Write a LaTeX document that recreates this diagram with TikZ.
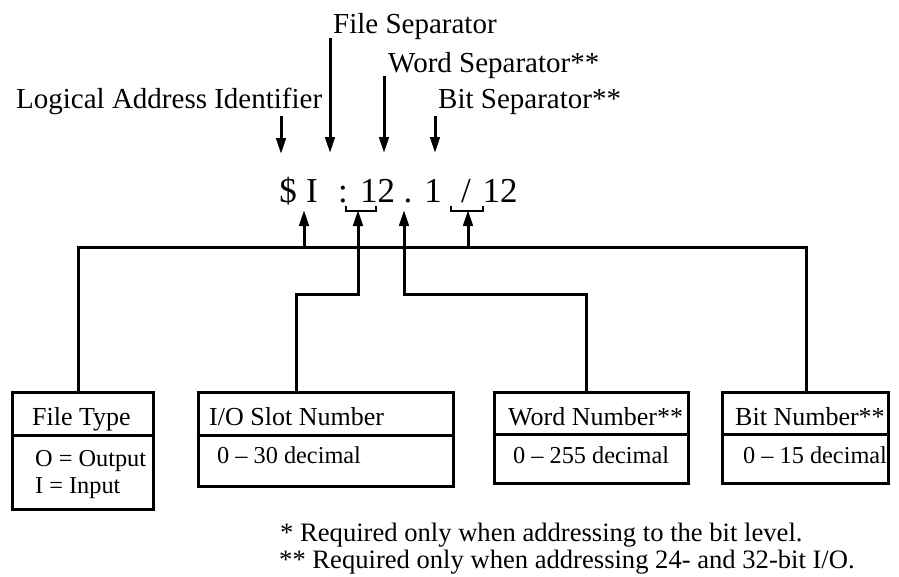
\documentclass[tikz,border=0pt]{standalone}
\usepackage{fontspec}
\setmainfont{Liberation Serif}
\usetikzlibrary{arrows.meta}

\tikzset{
  wire/.style={line width=3pt, line join=miter},
  pointer/.style={wire, -{Triangle[length=16pt,width=9.5pt]}},
  brace/.style={line width=1.7pt},
  boxframe/.style={draw, line width=3pt, inner sep=0pt},
  toplabel/.style={inner sep=0pt, anchor=base west, font=\fontsize{29}{34}\selectfont},
  addr/.style={inner sep=0pt, anchor=base, font=\fontsize{35}{40}\selectfont},
  boxtitle/.style={inner sep=0pt, anchor=base west, font=\fontsize{26}{30}\selectfont},
  boxtext/.style={inner sep=0pt, anchor=base west, font=\fontsize{24.3}{28}\selectfont},
  note/.style={inner sep=0pt, anchor=base west, font=\fontsize{26.6}{30}\selectfont},
}

\begin{document}
\begin{tikzpicture}[x=1pt, y=-1pt]
\useasboundingbox (0,0) rectangle (899,576);

% labels above the address
\node[toplabel] (lfile) at (333,33) {File Separator};
\node[toplabel] (lword) at (388,72) {Word Separator**};
\node[toplabel] (llog)  at (16,108) {Logical Address Identifier};
\node[toplabel] (lbit)  at (438,108) {Bit Separator**};

% the address itself
\node[addr] (adollar) at (288,202) {\$};
\node[addr] (atype)   at (312,202) {I};
\node[addr] (acolon)  at (343,202) {:};
\node[addr] (aslot)   at (377.5,202) {12};
\node[addr] (adot)    at (408,202) {.};
\node[addr] (aword)   at (433,202) {1};
\node[addr] (aslash)  at (466,202) {/};
\node[addr] (abit)    at (500,202) {12};

% arrows from the labels down to the address
\coordinate (llog-s)  at (281,116);  \coordinate (llog-t)  at (281,154);
\coordinate (lfile-s) at (330,38);   \coordinate (lfile-t) at (330,153);
\coordinate (lword-s) at (384,76);   \coordinate (lword-t) at (384,153);
\coordinate (lbit-s)  at (435,116);  \coordinate (lbit-t)  at (435,153);
\draw[pointer] (llog-s) -- (llog-t);
\draw[pointer] (lfile-s) -- (lfile-t);
\draw[pointer] (lword-s) -- (lword-t);
\draw[pointer] (lbit-s) -- (lbit-t);

% small brackets under the slot and bit fields
\draw[brace] (346,206) -- (346,211) -- (376,211) -- (376,206);
\draw[brace] (451,206) -- (451,211) -- (483,211) -- (483,206);

% field boxes
\node[boxframe, minimum width=141pt, minimum height=117pt] (bft)   at (82.5,450.5) {};
\node[boxframe, minimum width=255pt, minimum height=94pt]  (bslot) at (325.5,439) {};
\node[boxframe, minimum width=194pt, minimum height=91pt]  (bword) at (591,437.5) {};
\node[boxframe, minimum width=166pt, minimum height=91pt]  (bbit)  at (805,437.5) {};
\draw[wire] (bft.west |- 0,435)   -- (bft.east |- 0,435);
\draw[wire] (bslot.west |- 0,435) -- (bslot.east |- 0,435);
\draw[wire] (bword.west |- 0,434) -- (bword.east |- 0,434);
\draw[wire] (bbit.west |- 0,434)  -- (bbit.east |- 0,434);

\node[boxtitle] (tft)   at (32,425)  {File Type};
\node[boxtext]  (tft1)  at (35,466)  {O = Output};
\node[boxtext]  (tft2)  at (35,493)  {I = Input};
\node[boxtitle] (tslot) at (209,425) {I/O Slot Number};
\node[boxtext]  (tslot1) at (217,463) {0 -- 30 decimal};
\node[boxtitle] (tword) at (508,425) {Word Number**};
\node[boxtext]  (tword1) at (513,463) {0 -- 255 decimal};
\node[boxtitle] (tbit)  at (735,425) {Bit Number**};
\node[boxtext]  (tbit1) at (743,463) {0 -- 15 decimal};

% connectors from the boxes up to the address
\coordinate (busl) at (78,247);
\coordinate (busr) at (806,247);
\draw[wire] (bft.north -| busl) -- (busl) -- (busr) -- (bbit.north -| busr);
\draw[pointer] (304,247) -- (304,210);
\draw[pointer] (468,247) -- (468,210);
\draw[pointer] (bslot.north -| 296,0) -- (296,294) -- (358,294) -- (358,210);
\draw[pointer] (bword.north -| 586,0) -- (586,294) -- (404,294) -- (404,210);

% footnotes
\node[note] (n1) at (280,541) {* Required only when addressing to the bit level.};
\node[note] (n2) at (279,568) {** Required only when addressing 24- and 32-bit I/O.};
\end{tikzpicture}
\end{document}
